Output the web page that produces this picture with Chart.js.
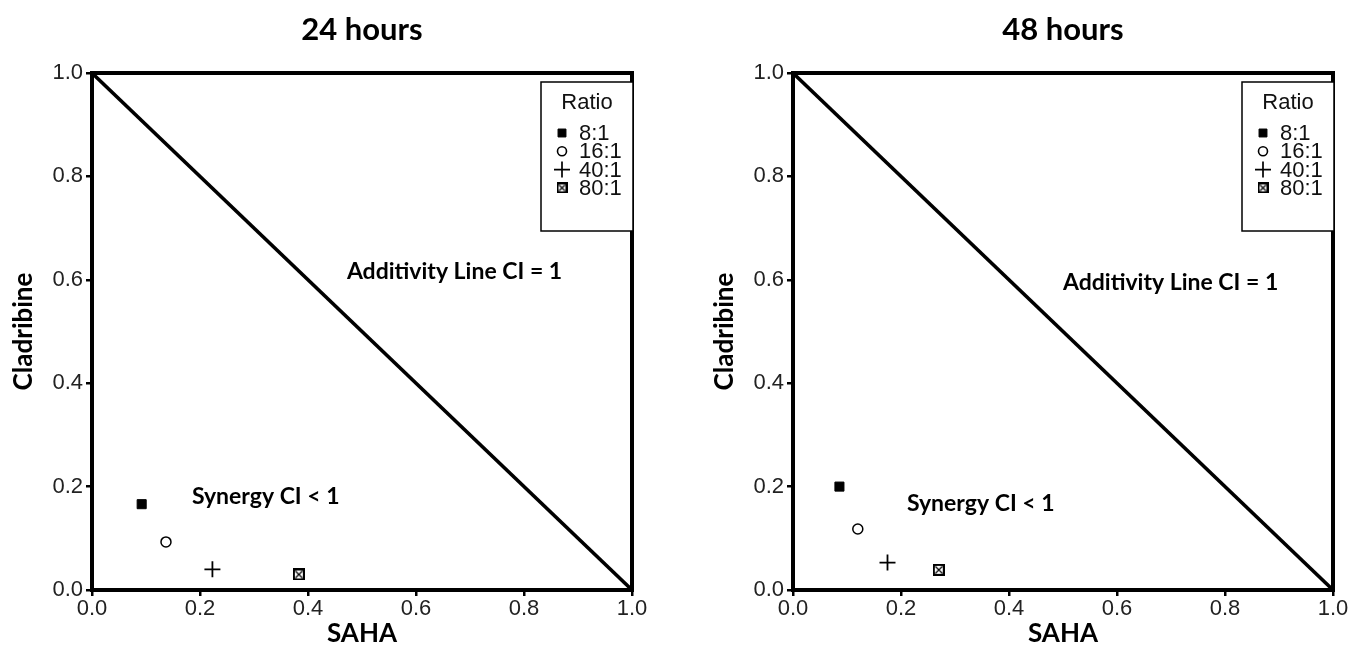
<!DOCTYPE html>
<html>
<head>
<meta charset="utf-8">
<script src="https://cdn.jsdelivr.net/npm/chart.js@4.4.1/dist/chart.umd.min.js"></script>
<style>
  body { margin: 0; background: #fff; }
  .panel { position: absolute; top: 0; width: 660px; height: 652px; }
</style>
</head>
<body>
<div class="panel" style="left:0"><canvas id="c24" width="660" height="652"></canvas></div>
<div class="panel" style="left:690px"><canvas id="c48" width="660" height="652"></canvas></div>
<script>
// data
const ratios = ["8:1", "16:1", "40:1", "80:1"];
const saha24 = [0.092, 0.137, 0.223, 0.383];
const clad24 = [0.166, 0.093, 0.040, 0.030];
const saha48 = [0.086, 0.120, 0.175, 0.270];
const clad48 = [0.200, 0.118, 0.053, 0.039];
const lineSaha = [0, 1];
const lineClad = [1, 0];
const axisMin = 0, axisMax = 1, axisStep = 0.2;

// crossed square marker (no built-in style for it)
function crossedSquare(size) {
  const c = document.createElement("canvas");
  c.width = size; c.height = size;
  const g = c.getContext("2d");
  g.fillStyle = "#fff";
  g.fillRect(0, 0, size, size);
  g.strokeStyle = "#000";
  g.lineWidth = 2;
  g.strokeRect(1, 1, size - 2, size - 2);
  g.lineWidth = 1.2;
  g.beginPath();
  g.moveTo(2.5, 2.5); g.lineTo(size - 2.5, size - 2.5);
  g.moveTo(size - 2.5, 2.5); g.lineTo(2.5, size - 2.5);
  g.stroke();
  return c;
}

const markers = [
  { pointStyle: "rect", radius: 6.4, fill: "#000", border: 1 },
  { pointStyle: "circle", radius: 5, fill: "#fff", border: 1.5 },
  { pointStyle: "cross", radius: 8, fill: "#000", border: 1.8 },
  { pointStyle: crossedSquare(12), radius: 6, fill: "#fff", border: 1 },
];
const legendMarkers = [
  { pointStyle: "rect", radius: 5.6, border: 1, fill: "#000" },
  { pointStyle: "circle", radius: 4.5, border: 1.6, fill: "#fff" },
  { pointStyle: "cross", radius: 8, border: 1.7, fill: "#000" },
  { pointStyle: crossedSquare(11), radius: 5.5, border: 1, fill: "#fff" },
];

const textFont = "Lato, 'Open Sans', sans-serif";
const tickFont = "'Liberation Sans', Arial, sans-serif";

function makeChart(id, title, xs, ys, yWidth, padRight, labels) {
  const datasets = [{
    label: "Additivity",
    data: lineSaha.map((v, i) => ({ x: v, y: lineClad[i] })),
    showLine: true,
    borderColor: "#000",
    borderWidth: 3.5,
    pointRadius: 0,
  }];
  ratios.forEach((r, i) => {
    const m = markers[i];
    datasets.push({
      label: r,
      data: [{ x: xs[i], y: ys[i] }],
      pointStyle: m.pointStyle,
      pointRadius: m.radius,
      pointBackgroundColor: m.fill,
      pointBorderColor: "#000",
      pointBorderWidth: m.border,
    });
  });

  const decor = {
    id: "decor",
    afterDatasetsDraw(chart) {
      const ctx = chart.ctx, a = chart.chartArea;
      const sx = chart.scales.x, sy = chart.scales.y;
      ctx.save();
      // frame top/right
      ctx.strokeStyle = "#000";
      ctx.lineWidth = 4;
      ctx.strokeRect(a.left, a.top, a.right - a.left, a.bottom - a.top);
      // annotations
      ctx.fillStyle = "#000";
      ctx.font = "bold 23px " + textFont;
      ctx.textBaseline = "middle";
      ctx.textAlign = "left";
      labels.forEach(l => {
        ctx.fillText(l.text, sx.getPixelForValue(l.x), sy.getPixelForValue(l.y));
      });
      // title
      ctx.font = "bold 31px " + textFont;
      ctx.textAlign = "center";
      ctx.fillText(title, (a.left + a.right) / 2, 30);
      // legend box
      const bw = 92, bh = 149;
      const bx = a.right - bw + 1, by = a.top + 9;
      ctx.fillStyle = "#fff";
      ctx.fillRect(bx, by, bw, bh);
      ctx.lineWidth = 1.5;
      ctx.strokeRect(bx, by, bw, bh);
      ctx.fillStyle = "#111";
      ctx.font = "22px " + tickFont;
      ctx.textAlign = "center";
      ctx.fillText("Ratio", bx + bw / 2, by + 21);
      ctx.textAlign = "left";
      ratios.forEach((r, i) => {
        const yy = by + 51 + i * 18.3;
        const m = legendMarkers[i];
        ctx.fillStyle = m.fill;
        ctx.strokeStyle = "#000";
        ctx.lineWidth = m.border;
        Chart.helpers.drawPoint(ctx, { pointStyle: m.pointStyle, radius: m.radius, rotation: 0, borderWidth: m.border }, bx + 21, yy);
        ctx.fillStyle = "#111";
        ctx.fillText(r, bx + 38, yy + 1);
      });
      ctx.restore();
    }
  };

  return new Chart(document.getElementById(id), {
    type: "scatter",
    data: { datasets },
    plugins: [decor],
    options: {
      responsive: false,
      animation: false,
      layout: { padding: { top: 73, right: padRight, left: 0, bottom: 0 } },
      plugins: { legend: { display: false }, tooltip: { enabled: false } },
      scales: {
        x: {
          min: axisMin, max: axisMax,
          afterFit(s) { s.height = 62; },
          ticks: { stepSize: axisStep, callback: v => v.toFixed(1), color: "#222", font: { family: tickFont, size: 22 }, padding: 0 },
          grid: { drawOnChartArea: false, drawTicks: true, tickLength: 6, color: "#000", lineWidth: 2.5 },
          border: { display: true, color: "#000", width: 4 },
          title: { display: true, text: "SAHA", color: "#000", font: { family: textFont, size: 26, weight: "bold" }, padding: { top: 0, bottom: 3 } },
        },
        y: {
          min: axisMin, max: axisMax,
          afterFit(s) { s.width = yWidth; },
          ticks: { stepSize: axisStep, callback: v => v.toFixed(1), color: "#222", font: { family: tickFont, size: 22 }, padding: 3 },
          grid: { drawOnChartArea: false, drawTicks: true, tickLength: 6, color: "#000", lineWidth: 2.5 },
          border: { display: true, color: "#000", width: 4 },
          title: { display: true, text: "Cladribine", color: "#000", font: { family: textFont, size: 26, weight: "bold" }, padding: { top: yWidth - 84, bottom: 0 } },
        },
      },
    },
  });
}

makeChart("c24", "24 hours", saha24, clad24, 92, 28, [
  { text: "Additivity Line CI = 1", x: 0.472, y: 0.615 },
  { text: "Synergy CI < 1", x: 0.185, y: 0.18 },
]);
makeChart("c48", "48 hours", saha48, clad48, 103, 17, [
  { text: "Additivity Line CI = 1", x: 0.5, y: 0.594 },
  { text: "Synergy CI < 1", x: 0.211, y: 0.168 },
]);
</script>
</body>
</html>
